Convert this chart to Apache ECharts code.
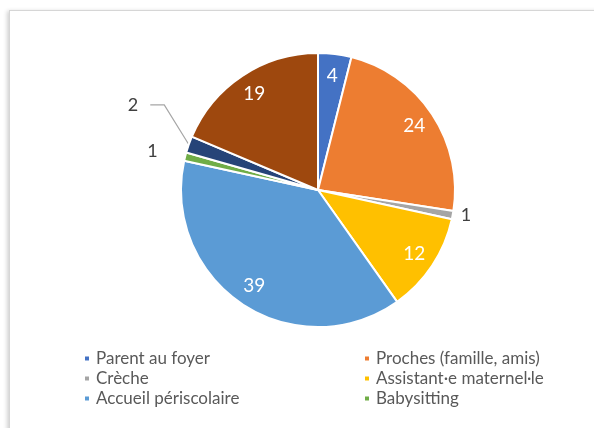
<!DOCTYPE html>
<html>
<head>
<meta charset="utf-8">
<script src="https://cdn.jsdelivr.net/npm/echarts@6/dist/echarts.min.js"></script>
<style>
  html, body { margin: 0; padding: 0; background: #ffffff; }
  #frame { position: absolute; left: 9px; top: 10px; width: 640px; height: 460px;
           border: 1px solid #d6d6d6; box-shadow: -2px 1px 4px rgba(0,0,0,0.18); background: #fff; }
  #chart { position: absolute; left: 0; top: 0; width: 594px; height: 428px; }
</style>
</head>
<body>
<div id="frame"></div>
<div id="chart"></div>
<script>
const categories = ['Parent au foyer', 'Proches (famille, amis)', 'Crèche', 'Assistant·e maternel·le', 'Accueil périscolaire', 'Babysitting', 'Autre', 'Sans réponse'];
const values = [4, 24, 1, 12, 39, 1, 2, 19];
const colors = ['#4472C4', '#ED7D31', '#A5A5A5', '#FFC000', '#5B9BD5', '#70AD47', '#264478', '#9E480E'];
const legendLeftCol = [categories[0], categories[2], categories[4]];
const legendRightCol = [categories[1], categories[3], categories[5]];
const insideLabelIdx = [0, 1, 3, 4, 7];
const outsideLabelIdx = [2, 5, 6];

const FONT = 'Lato';
const CENTER = [318, 190];
const R = 137;

// per-item outside label placement (leader line lengths)
const outsideLine = {
  2: { length: 2, length2: 0, show: false },
  5: { length: 22, length2: 0, show: false },
  6: { length: 26, length2: 14, show: true }
};
const outsideGap = { 2: 6, 5: 6, 6: 12 };
const LIFT = 31; // upward shift of the "2" label and the outer part of its leader line

const mainData = categories.map((name, i) => {
  const item = { name: name, value: values[i], itemStyle: { color: colors[i] } };
  if (outsideLabelIdx.includes(i)) {
    item.label = { show: true, distanceToLabelLine: outsideGap[i] };
    item.labelLine = outsideLine[i];
  } else {
    item.label = { show: false };
    item.labelLine = { show: false };
  }
  return item;
});

const labelData = categories.map((name, i) => ({
  name: name, value: values[i],
  label: { show: insideLabelIdx.includes(i) }
}));

const legendCommon = {
  orient: 'vertical',
  icon: 'rect',
  itemWidth: 6,
  itemHeight: 6,
  itemGap: 3,
  selectedMode: false,
  textStyle: { fontFamily: FONT, fontSize: 17, color: '#595959', padding: [0, 0, 0, 1] }
};

const chart = echarts.init(document.getElementById('chart'), null, { renderer: 'canvas' });
chart.setOption({
  animation: false,
  backgroundColor: 'transparent',
  color: colors,
  legend: [
    Object.assign({}, legendCommon, { data: legendLeftCol, left: 78, top: 345 }),
    Object.assign({}, legendCommon, { data: legendRightCol, left: 358, top: 345 })
  ],
  series: [
    {
      type: 'pie',
      center: CENTER,
      radius: [0, R],
      startAngle: 90,
      clockwise: true,
      avoidLabelOverlap: false,
      silent: true,
      itemStyle: { borderColor: '#ffffff', borderWidth: 2 },
      label: {
        position: 'outside',
        formatter: '{c}',
        fontFamily: FONT,
        fontSize: 18,
        color: '#404040',
        distanceToLabelLine: 6
      },
      labelLine: { lineStyle: { color: '#a6a6a6', width: 1.2 } },
      labelLayout: function (params) {
        if (params.dataIndex === 6 && params.labelLinePoints) {
          const p = params.labelLinePoints;
          return {
            dy: -LIFT,
            labelLinePoints: [
              [p[0][0], p[0][1]],
              [p[1][0], p[1][1] - LIFT],
              [p[2][0], p[2][1] - LIFT]
            ]
          };
        }
        return {};
      },
      data: mainData
    },
    {
      type: 'pie',
      center: CENTER,
      radius: [R * 0.64, R],
      startAngle: 90,
      clockwise: true,
      silent: true,
      itemStyle: { color: 'rgba(0,0,0,0)' },
      label: {
        position: 'inside',
        formatter: '{c}',
        fontFamily: FONT,
        fontSize: 19,
        color: '#ffffff'
      },
      labelLine: { show: false },
      data: labelData
    }
  ]
});
</script>
</body>
</html>
